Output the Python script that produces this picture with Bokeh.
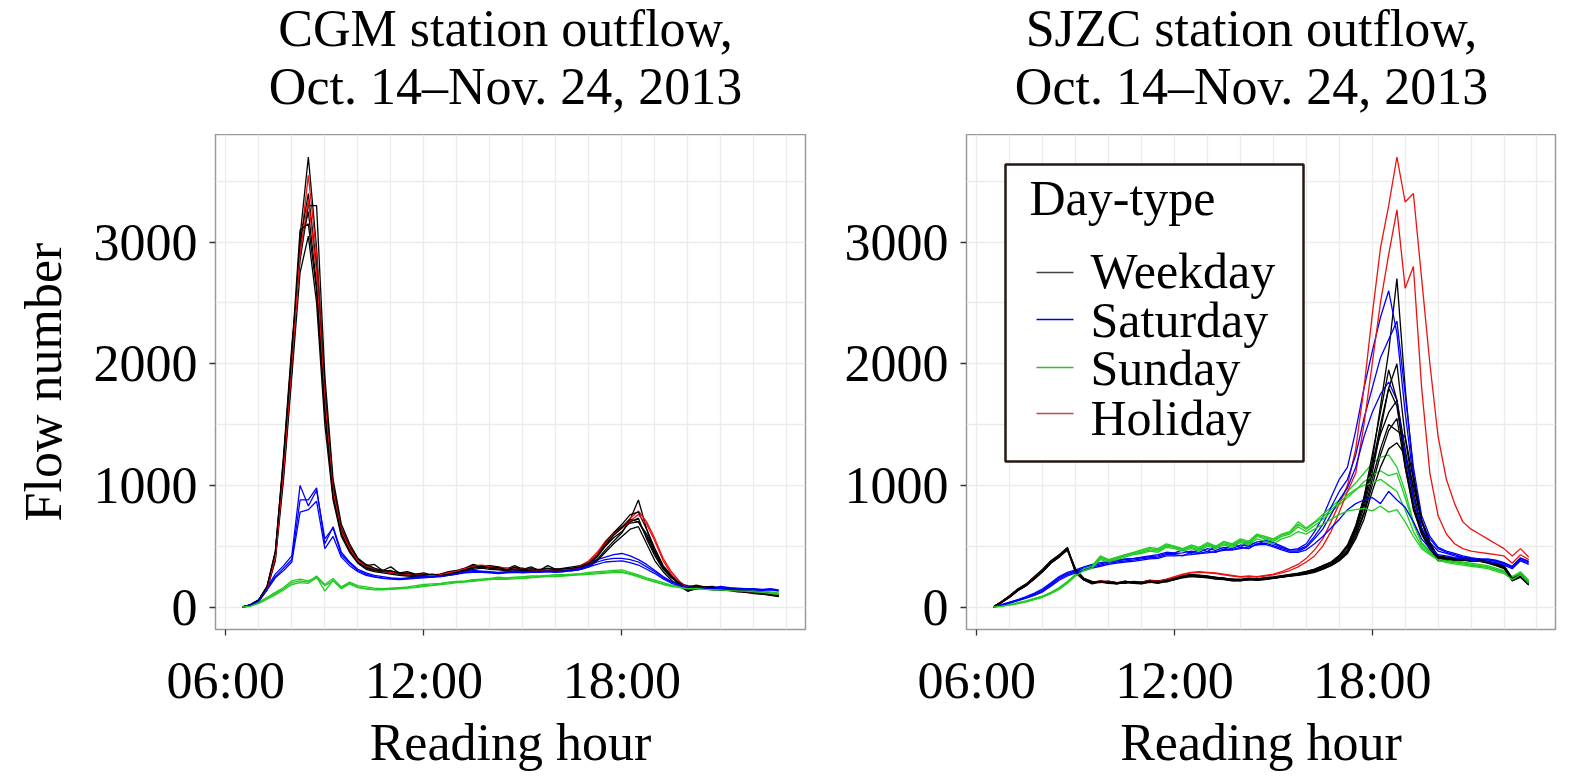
from bokeh.plotting import figure
from bokeh.models import Range1d, FixedTicker, Label, BoxAnnotation
from bokeh.layouts import row, column
from bokeh.embed import file_html
from bokeh.resources import INLINE

# reading times: every 15 minutes from 06:30 to 22:45 (hours)
hours = [6.5 + 0.25 * i for i in range(66)]

x_ticks = [6, 12, 18]
x_tick_labels = {6: "06:00", 12: "12:00", 18: "18:00"}
y_ticks = [0, 1000, 2000, 3000]
day_types = ["Weekday", "Saturday", "Sunday", "Holiday"]
colors = {"Weekday": "#000000", "Saturday": "#0000FF", "Sunday": "#22CC22", "Holiday": "#EE1111"}
key_colors = {"Weekday": "#444444", "Saturday": "#0000DD", "Sunday": "#33BB33", "Holiday": "#CC4444"}
titles = {"CGM": ["CGM station outflow,", "Oct. 14\u2013Nov. 24, 2013"],
          "SJZC": ["SJZC station outflow,", "Oct. 14\u2013Nov. 24, 2013"]}

# ---------------- CGM station ----------------
cgm_weekday_1 = [0, 15, 55, 160, 430, 1180, 2050, 2950, 3250, 2650, 1650,
                 930, 610, 470, 370, 320, 300, 290, 280, 270, 265, 260,
                 255, 250, 260, 270, 280, 300, 320, 330, 325, 315, 310,
                 320, 310, 305, 300, 310, 300, 305, 310, 320, 350, 410,
                 500, 570, 620, 700, 730, 560, 420, 310, 240, 190, 140,
                 170, 160, 150, 150, 140, 135, 125, 120, 115, 105, 95]
cgm_weekday_2 = [0, 10, 45, 140, 400, 1100, 1950, 3050, 3700, 2950, 1800,
                 1000, 650, 500, 400, 340, 310, 300, 285, 275, 270, 265,
                 260, 255, 250, 265, 290, 310, 330, 340, 320, 310, 320,
                 310, 300, 295, 310, 300, 315, 300, 300, 310, 340, 390,
                 470, 540, 610, 720, 880, 640, 450, 330, 250, 200, 150,
                 150, 165, 145, 140, 150, 130, 125, 115, 110, 100, 90]
cgm_weekday_3 = [0, 20, 60, 170, 450, 1250, 2150, 2850, 3300, 3300, 1900,
                 1050, 680, 520, 400, 350, 320, 300, 290, 285, 270, 260,
                 265, 255, 265, 275, 290, 310, 340, 320, 330, 320, 300,
                 315, 320, 300, 305, 315, 300, 310, 305, 315, 360, 420,
                 520, 600, 660, 690, 700, 600, 460, 330, 250, 180, 130,
                 160, 150, 160, 140, 140, 140, 120, 125, 110, 110, 100]
cgm_weekday_4 = [0, 15, 50, 150, 380, 1050, 1900, 2750, 3050, 2500, 1500,
                 880, 580, 450, 360, 310, 290, 280, 270, 260, 255, 250,
                 250, 245, 255, 260, 270, 290, 310, 320, 310, 305, 300,
                 305, 300, 300, 295, 300, 295, 300, 300, 310, 330, 380,
                 450, 520, 580, 640, 660, 520, 380, 290, 220, 170, 130,
                 150, 150, 140, 140, 135, 125, 120, 110, 105, 95, 85]
cgm_weekday_5 = [0, 15, 55, 165, 420, 1150, 2000, 3000, 3400, 2800, 1750,
                 980, 640, 490, 390, 340, 350, 300, 330, 280, 290, 270,
                 280, 260, 270, 290, 300, 320, 350, 330, 340, 330, 310,
                 340, 310, 330, 300, 340, 310, 320, 330, 340, 370, 430,
                 530, 610, 680, 760, 780, 640, 480, 340, 260, 200, 160,
                 180, 165, 170, 150, 155, 140, 135, 125, 120, 110, 100]
cgm_weekday_6 = [0, 18, 58, 170, 460, 1220, 2100, 3100, 3150, 2600, 1600,
                 900, 600, 460, 365, 325, 305, 295, 300, 275, 280, 262,
                 262, 270, 258, 268, 285, 305, 325, 335, 320, 325, 305,
                 325, 305, 315, 305, 320, 305, 315, 320, 330, 360, 420,
                 510, 590, 650, 720, 700, 580, 440, 320, 245, 195, 145,
                 175, 155, 160, 145, 145, 135, 130, 118, 112, 102, 92]
cgm_holiday_1 = [0, 15, 55, 160, 440, 1200, 2100, 2950, 3550, 2900, 1750,
                 1000, 650, 500, 390, 340, 310, 300, 290, 280, 275, 270,
                 270, 265, 270, 285, 300, 320, 340, 345, 335, 330, 320,
                 320, 315, 310, 310, 315, 310, 315, 320, 340, 380, 450,
                 540, 610, 660, 730, 790, 700, 560, 400, 290, 210, 160,
                 175, 160, 155, 150, 145, 140, 130, 125, 120, 110, 100]
cgm_holiday_2 = [0, 12, 50, 150, 410, 1120, 2000, 2900, 3350, 2750, 1700,
                 950, 620, 480, 380, 330, 305, 295, 285, 275, 270, 265,
                 262, 258, 265, 280, 295, 315, 335, 340, 330, 322, 318,
                 318, 312, 308, 305, 310, 305, 310, 318, 335, 370, 430,
                 520, 600, 650, 710, 760, 680, 540, 380, 270, 200, 155,
                 165, 155, 150, 145, 140, 135, 128, 120, 115, 108, 98]
cgm_saturday_1 = [0, 20, 60, 160, 270, 340, 420, 1000, 830, 960, 560,
                  650, 430, 360, 300, 270, 250, 240, 235, 230, 240, 245,
                  250, 255, 260, 270, 280, 290, 300, 295, 290, 285, 290,
                  295, 290, 300, 295, 300, 290, 300, 310, 330, 360, 390,
                  410, 430, 440, 420, 390, 350, 300, 250, 210, 190, 175,
                  170, 165, 160, 170, 160, 155, 150, 150, 145, 150, 140]
cgm_saturday_2 = [0, 18, 55, 150, 250, 320, 390, 880, 880, 980, 520,
                  660, 450, 370, 310, 280, 260, 250, 240, 235, 235, 240,
                  245, 250, 255, 265, 275, 285, 290, 290, 285, 280, 285,
                  290, 285, 290, 290, 295, 290, 295, 305, 320, 340, 370,
                  390, 400, 400, 390, 370, 330, 290, 240, 205, 185, 170,
                  165, 160, 155, 160, 155, 150, 148, 145, 140, 145, 135]
cgm_saturday_3 = [0, 15, 50, 140, 240, 300, 370, 780, 800, 870, 480,
                  580, 410, 340, 290, 260, 245, 235, 230, 225, 230, 235,
                  240, 245, 250, 260, 270, 280, 285, 285, 280, 275, 280,
                  285, 280, 285, 285, 290, 285, 290, 300, 310, 330, 350,
                  370, 375, 380, 365, 345, 310, 275, 230, 195, 175, 160,
                  160, 155, 150, 155, 150, 145, 140, 140, 135, 140, 130]
cgm_sunday_1 = [0, 10, 35, 70, 110, 150, 200, 215, 205, 255, 185,
                235, 165, 205, 175, 165, 155, 150, 155, 160, 165, 175,
                185, 190, 195, 205, 210, 215, 225, 230, 235, 245, 240,
                245, 250, 255, 255, 260, 265, 265, 270, 275, 285, 290,
                295, 300, 305, 285, 265, 240, 220, 200, 180, 170, 160,
                160, 155, 150, 150, 145, 140, 140, 135, 130, 125, 115]
cgm_sunday_2 = [0, 12, 40, 80, 120, 160, 215, 230, 215, 245, 130,
                220, 155, 195, 165, 150, 145, 145, 150, 155, 160, 165,
                175, 180, 190, 200, 205, 210, 220, 225, 230, 235, 235,
                240, 240, 245, 250, 255, 255, 260, 265, 270, 275, 280,
                285, 290, 290, 275, 255, 230, 210, 190, 175, 165, 155,
                155, 150, 148, 145, 140, 138, 135, 130, 125, 118, 110]
cgm_sunday_3 = [0, 8, 30, 65, 100, 140, 185, 200, 195, 240, 175,
                215, 150, 190, 160, 150, 140, 140, 145, 150, 155, 160,
                170, 175, 185, 190, 200, 205, 210, 220, 225, 230, 228,
                232, 235, 240, 245, 250, 250, 255, 260, 265, 268, 272,
                278, 282, 285, 268, 248, 225, 205, 185, 170, 160, 150,
                150, 145, 142, 140, 135, 132, 130, 125, 120, 112, 105]

# ---------------- SJZC station ----------------
sjzc_weekday_1 = [0, 45, 95, 150, 190, 250, 310, 380, 430, 490, 300,
                  230, 200, 215, 205, 195, 210, 205, 200, 215, 205, 220,
                  235, 255, 265, 255, 250, 240, 235, 225, 225, 235, 230,
                  240, 245, 255, 265, 275, 290, 310, 340, 370, 420, 500,
                  650, 880, 1200, 1650, 2100, 2700, 1800, 1100, 700, 520, 420,
                  410, 400, 405, 390, 395, 375, 360, 340, 240, 270, 200]
sjzc_weekday_2 = [0, 40, 85, 140, 180, 240, 300, 370, 420, 480, 290,
                  225, 195, 210, 200, 190, 205, 200, 195, 210, 200, 215,
                  230, 250, 260, 250, 245, 235, 230, 220, 220, 230, 225,
                  235, 240, 250, 260, 270, 285, 300, 330, 360, 410, 490,
                  640, 850, 1150, 1500, 1800, 2000, 1400, 950, 650, 500, 410,
                  400, 395, 400, 385, 390, 370, 355, 330, 230, 260, 190]
sjzc_weekday_3 = [0, 35, 80, 135, 175, 230, 290, 360, 410, 470, 310,
                  235, 205, 200, 210, 200, 195, 210, 205, 200, 215, 205,
                  225, 245, 255, 260, 250, 245, 235, 230, 220, 225, 235,
                  230, 240, 245, 255, 265, 275, 295, 320, 350, 400, 470,
                  620, 820, 1100, 1450, 1800, 1650, 1200, 850, 620, 480, 390,
                  395, 385, 395, 380, 380, 365, 345, 320, 220, 250, 185]
sjzc_weekday_4 = [0, 40, 90, 145, 185, 245, 305, 375, 425, 485, 280,
                  220, 190, 205, 195, 190, 200, 195, 190, 205, 195, 210,
                  225, 240, 250, 245, 240, 230, 225, 215, 215, 225, 220,
                  225, 235, 245, 255, 260, 270, 285, 310, 340, 380, 450,
                  580, 760, 1000, 1250, 1450, 1550, 1150, 820, 600, 470, 380,
                  385, 380, 385, 375, 375, 360, 340, 315, 215, 245, 180]
sjzc_weekday_5 = [0, 38, 82, 138, 178, 235, 295, 365, 415, 475, 295,
                  228, 198, 212, 202, 192, 208, 198, 196, 212, 202, 218,
                  232, 252, 262, 252, 248, 238, 232, 222, 222, 232, 228,
                  238, 242, 252, 262, 272, 280, 295, 315, 340, 380, 440,
                  560, 720, 950, 1150, 1300, 1350, 1250, 1000, 700, 520, 400,
                  400, 390, 395, 385, 385, 370, 350, 325, 225, 255, 188]
sjzc_weekday_6 = [0, 42, 88, 142, 182, 238, 298, 372, 422, 478, 305,
                  232, 202, 208, 198, 198, 202, 202, 198, 208, 208, 212,
                  228, 248, 258, 258, 252, 242, 238, 228, 218, 228, 232,
                  232, 238, 248, 258, 268, 285, 305, 335, 365, 415, 495,
                  660, 900, 1250, 1600, 1950, 1700, 1150, 800, 600, 490, 400,
                  405, 395, 400, 388, 392, 372, 358, 335, 235, 265, 195]
sjzc_weekday_7 = [0, 43, 92, 148, 188, 248, 308, 378, 428, 470, 310,
                  235, 210, 205, 212, 198, 212, 200, 205, 218, 208, 222,
                  238, 258, 268, 262, 255, 244, 238, 228, 228, 238, 232,
                  242, 248, 258, 268, 278, 292, 312, 338, 368, 425, 510,
                  670, 900, 1180, 1420, 1600, 1700, 1300, 900, 640, 510, 415,
                  408, 398, 402, 392, 388, 372, 355, 338, 228, 262, 192]
sjzc_weekday_8 = [0, 37, 84, 136, 176, 232, 292, 362, 412, 472, 285,
                  222, 196, 208, 196, 194, 204, 198, 192, 206, 198, 214,
                  226, 246, 254, 248, 244, 234, 228, 218, 218, 226, 224,
                  228, 236, 246, 256, 264, 276, 290, 316, 344, 390, 460,
                  600, 780, 1050, 1300, 1500, 1450, 1400, 1050, 720, 530, 410,
                  395, 388, 392, 380, 382, 366, 346, 322, 218, 248, 182]
sjzc_holiday_1 = [0, 45, 90, 145, 185, 245, 305, 370, 420, 470, 300,
                  230, 205, 215, 210, 200, 210, 205, 205, 220, 215, 230,
                  250, 270, 285, 290, 285, 280, 270, 260, 250, 255, 250,
                  260, 270, 290, 320, 350, 400, 470, 560, 700, 850, 1000,
                  1300, 1800, 2400, 2950, 3300, 3700, 3330, 3400, 2700, 2000, 1400,
                  1050, 850, 700, 640, 600, 560, 520, 480, 420, 480, 410]
sjzc_holiday_2 = [0, 42, 88, 140, 180, 240, 300, 365, 415, 465, 290,
                  225, 200, 210, 205, 198, 205, 200, 200, 215, 210, 225,
                  245, 265, 280, 285, 280, 275, 265, 255, 245, 250, 245,
                  255, 265, 280, 300, 330, 370, 420, 500, 620, 780, 950,
                  1100, 1500, 2000, 2500, 2900, 3265, 2620, 2800, 1800, 1100, 750,
                  600, 520, 480, 460, 450, 440, 430, 420, 360, 430, 390]
sjzc_saturday_1 = [0, 20, 40, 60, 85, 115, 150, 200, 250, 285, 305,
                   330, 350, 365, 375, 385, 395, 400, 410, 420, 430, 450,
                   445, 470, 440, 480, 455, 500, 470, 520, 490, 540, 510,
                   550, 530, 500, 470, 480, 520, 620, 740, 900, 1050, 1150,
                   1450, 1800, 2100, 2380, 2600, 2250, 1600, 1050, 700, 560, 480,
                   450, 430, 410, 400, 390, 390, 380, 360, 330, 400, 370]
sjzc_saturday_2 = [0, 18, 38, 58, 80, 108, 140, 190, 240, 275, 300,
                   320, 340, 355, 370, 380, 390, 395, 405, 415, 420, 440,
                   440, 445, 460, 450, 480, 465, 490, 480, 510, 500, 535,
                   540, 520, 490, 470, 470, 500, 580, 680, 820, 950, 1050,
                   1250, 1550, 1800, 2050, 2200, 2350, 1750, 1150, 750, 580, 490,
                   460, 440, 420, 405, 395, 395, 385, 365, 335, 405, 375]
sjzc_saturday_3 = [0, 15, 35, 55, 75, 100, 130, 180, 230, 265, 290,
                   310, 330, 345, 360, 370, 380, 385, 395, 405, 410, 430,
                   430, 420, 450, 440, 455, 450, 475, 470, 490, 480, 520,
                   525, 505, 480, 460, 460, 490, 560, 640, 760, 880, 980,
                   1150, 1400, 1600, 1750, 1850, 1700, 1250, 900, 650, 530, 460,
                   440, 420, 405, 395, 385, 385, 375, 355, 325, 390, 360]
sjzc_saturday_4 = [0, 15, 32, 52, 72, 95, 125, 170, 220, 255, 280,
                   300, 320, 335, 350, 360, 370, 375, 385, 395, 400, 420,
                   420, 425, 430, 440, 445, 455, 465, 470, 480, 495, 510,
                   515, 495, 470, 450, 450, 470, 520, 580, 650, 720, 800,
                   850, 880, 900, 850, 950, 880, 820, 700, 560, 480, 430,
                   420, 405, 395, 385, 375, 375, 365, 345, 315, 380, 350]
sjzc_sunday_1 = [0, 10, 20, 35, 50, 70, 90, 120, 160, 210, 270,
                 320, 340, 420, 390, 410, 430, 450, 470, 490, 480, 520,
                 500, 480, 510, 490, 530, 500, 540, 520, 560, 540, 600,
                 580, 560, 600, 620, 700, 650, 700, 760, 820, 880, 950,
                 1020, 1100, 1180, 1230, 1250, 1150, 950, 700, 530, 460, 410,
                 390, 380, 370, 360, 350, 340, 320, 300, 250, 290, 220]
sjzc_sunday_2 = [0, 8, 18, 30, 45, 65, 85, 115, 150, 200, 260,
                 310, 330, 400, 380, 400, 420, 440, 450, 470, 460, 500,
                 490, 470, 490, 470, 510, 490, 520, 500, 540, 520, 580,
                 560, 540, 580, 600, 660, 620, 670, 720, 780, 840, 900,
                 960, 1030, 1080, 1120, 1080, 1100, 900, 680, 520, 450, 400,
                 380, 370, 360, 350, 340, 330, 310, 290, 240, 280, 210]
sjzc_sunday_3 = [0, 9, 19, 32, 48, 68, 88, 118, 155, 205, 265,
                 315, 335, 410, 385, 405, 425, 445, 460, 480, 470, 510,
                 495, 475, 500, 480, 520, 495, 530, 510, 550, 530, 590,
                 570, 550, 590, 610, 680, 640, 690, 740, 800, 860, 920,
                 970, 1000, 1020, 1050, 1000, 950, 800, 620, 500, 440, 395,
                 375, 365, 355, 345, 335, 325, 305, 285, 235, 275, 205]
sjzc_sunday_4 = [0, 7, 15, 28, 42, 60, 80, 110, 145, 195, 255,
                 300, 320, 390, 370, 390, 410, 430, 440, 460, 450, 490,
                 480, 460, 480, 460, 500, 480, 510, 490, 530, 510, 560,
                 540, 520, 560, 580, 620, 600, 640, 680, 720, 760, 790,
                 800, 810, 790, 830, 780, 800, 700, 580, 480, 430, 385,
                 365, 355, 345, 335, 325, 315, 295, 275, 225, 265, 195]

cgm_curves = [
    ("Weekday", cgm_weekday_1), ("Weekday", cgm_weekday_4), ("Saturday", cgm_saturday_1),
    ("Sunday", cgm_sunday_1), ("Weekday", cgm_weekday_2), ("Holiday", cgm_holiday_1),
    ("Weekday", cgm_weekday_3), ("Saturday", cgm_saturday_2), ("Sunday", cgm_sunday_2),
    ("Weekday", cgm_weekday_5), ("Holiday", cgm_holiday_2), ("Weekday", cgm_weekday_6),
    ("Saturday", cgm_saturday_3), ("Sunday", cgm_sunday_3),
]
sjzc_curves = [
    ("Weekday", sjzc_weekday_1), ("Weekday", sjzc_weekday_4), ("Saturday", sjzc_saturday_1),
    ("Sunday", sjzc_sunday_1), ("Holiday", sjzc_holiday_1), ("Weekday", sjzc_weekday_2),
    ("Weekday", sjzc_weekday_7), ("Saturday", sjzc_saturday_2), ("Sunday", sjzc_sunday_2),
    ("Weekday", sjzc_weekday_3), ("Holiday", sjzc_holiday_2), ("Weekday", sjzc_weekday_5),
    ("Saturday", sjzc_saturday_3), ("Sunday", sjzc_sunday_3), ("Weekday", sjzc_weekday_6),
    ("Weekday", sjzc_weekday_8), ("Saturday", sjzc_saturday_4), ("Sunday", sjzc_sunday_4),
]

FONT = "Liberation Serif"
FRAME_H = 495
TITLE_H = 134


def screen_text(p, x, y, text, size, align="left"):
    p.add_layout(Label(x=x, y=y, x_units="screen", y_units="screen", text=text,
                       text_font=FONT, text_font_size=size, text_align=align,
                       text_baseline="alphabetic", text_color="black"))


def make_title(lines, width, center_x):
    t = figure(width=width, height=TITLE_H, title=None,
               x_axis_location=None, y_axis_location=None,
               x_range=Range1d(0, 1), y_range=Range1d(0, 1),
               output_backend="svg", toolbar_location=None,
               min_border_left=0, min_border_right=0, min_border_top=0, min_border_bottom=0,
               background_fill_color="white", border_fill_color="white")
    t.outline_line_color = None
    t.grid.visible = False
    screen_text(t, center_x, 106, lines[0], "52px", "center")
    screen_text(t, center_x, 48, lines[1], "52px", "center")
    return t


def make_panel(curves, border_left, border_right, frame_w, ylabel, with_legend):
    p = figure(frame_width=frame_w, frame_height=FRAME_H, title=None,
               x_range=Range1d(5.6875, 23.5625), y_range=Range1d(-185, 3885),
               output_backend="svg", toolbar_location=None,
               min_border_left=border_left, min_border_right=border_right,
               min_border_top=0, min_border_bottom=134,
               background_fill_color="white", border_fill_color="white")

    p.outline_line_color = "#9a9a9a"
    p.outline_line_width = 1.5

    p.xgrid.ticker = FixedTicker(ticks=list(range(6, 24)))
    p.ygrid.ticker = FixedTicker(ticks=list(range(0, 4000, 500)))
    p.grid.grid_line_color = "#EBEBEB"
    p.grid.grid_line_width = 1.3

    p.xaxis.ticker = FixedTicker(ticks=x_ticks)
    p.xaxis.major_label_overrides = x_tick_labels
    p.yaxis.ticker = FixedTicker(ticks=y_ticks)
    p.axis.axis_line_color = None
    p.axis.minor_tick_line_color = None
    p.axis.major_tick_in = 0
    p.axis.major_tick_out = 6
    p.axis.major_tick_line_color = "#333333"
    p.axis.major_tick_line_width = 1.3
    p.axis.major_label_text_font = FONT
    p.axis.major_label_text_font_size = "52px"
    p.axis.major_label_text_color = "black"
    p.xaxis.major_label_standoff = 16
    p.yaxis.major_label_standoff = 12

    p.xaxis.axis_label = "Reading hour"
    p.xaxis.axis_label_standoff = 2
    if ylabel:
        p.yaxis.axis_label = ylabel
        p.yaxis.axis_label_standoff = 19
    p.axis.axis_label_text_font = FONT
    p.axis.axis_label_text_font_size = "52px"
    p.axis.axis_label_text_font_style = "normal"
    p.axis.axis_label_text_color = "black"

    for kind, vals in curves:
        p.line(hours, vals, line_color=colors[kind], line_width=1.3)

    if with_legend:
        p.add_layout(BoxAnnotation(left=39, right=337, bottom=168, top=465,
                                   left_units="screen", right_units="screen",
                                   bottom_units="screen", top_units="screen",
                                   fill_color="white", fill_alpha=1.0,
                                   line_color="#231815", line_width=2.5, line_alpha=1.0))
        screen_text(p, 63, 432, "Day-type", "50px")
        key_y = [357, 310, 262, 216]
        label_y = [359, 310, 262, 212]
        for k, ky, ly in zip(day_types, key_y, label_y):
            p.add_layout(BoxAnnotation(left=70, right=107, bottom=ky - 0.8, top=ky + 0.8,
                                       left_units="screen", right_units="screen",
                                       bottom_units="screen", top_units="screen",
                                       fill_color=key_colors[k], fill_alpha=1.0,
                                       line_color=None))
            screen_text(p, 124, ly, k, "50px")
    return p


left = make_panel(cgm_curves, 215, 7, 590, "Flow number", False)
right = make_panel(sjzc_curves, 154, 10, 589, None, True)
left_title = make_title(titles["CGM"], 812, 505)
right_title = make_title(titles["SJZC"], 753, 439)

layout = column(row(left_title, right_title), row(left, right))
open("out.html", "w").write(file_html(layout, INLINE))
